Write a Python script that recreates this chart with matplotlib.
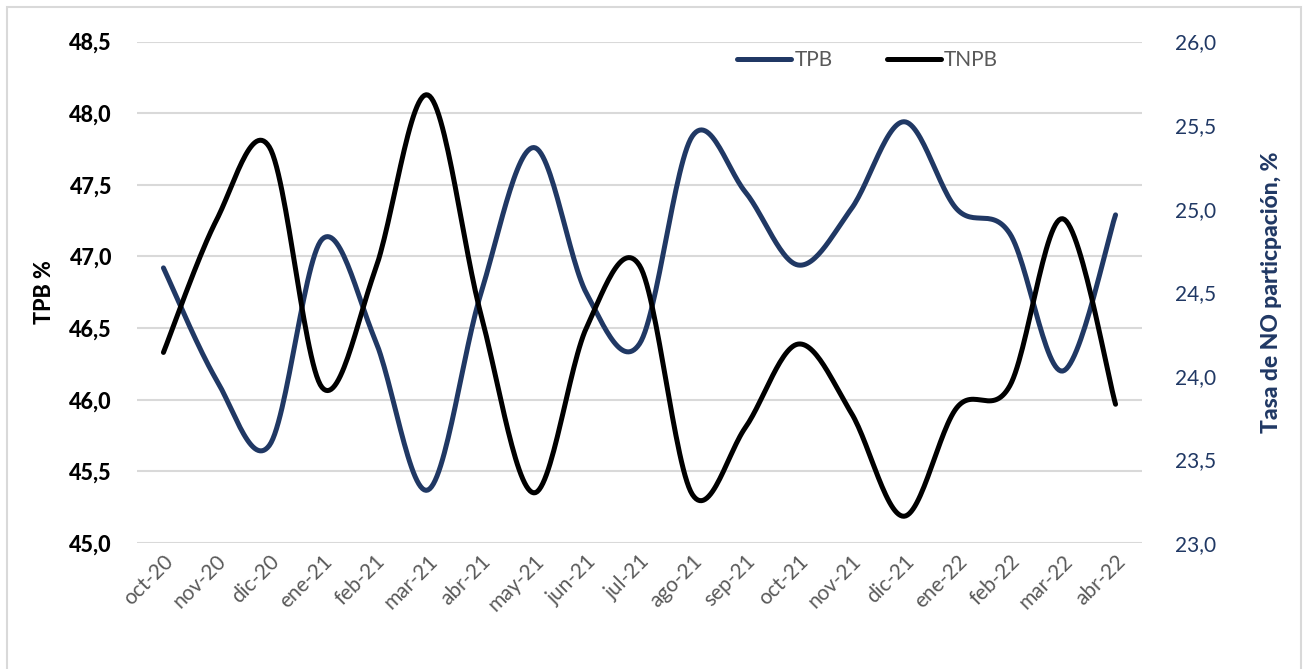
import numpy as np
import matplotlib
matplotlib.use("Agg")
import matplotlib.pyplot as plt
from matplotlib.patches import Rectangle
from matplotlib.lines import Line2D

meses = ["oct-20", "nov-20", "dic-20", "ene-21", "feb-21", "mar-21", "abr-21",
         "may-21", "jun-21", "jul-21", "ago-21", "sep-21", "oct-21", "nov-21",
         "dic-21", "ene-22", "feb-22", "mar-22", "abr-22"]
tpb = [46.92, 46.14, 45.68, 47.12, 46.42, 45.37, 46.74, 47.76, 46.74, 46.39,
       47.84, 47.45, 46.94, 47.33, 47.94, 47.33, 47.16, 46.2, 47.29]
tnpb = [24.14, 24.93, 25.37, 23.93, 24.63, 25.68, 24.37, 23.3, 24.29, 24.66,
        23.29, 23.69, 24.19, 23.78, 23.16, 23.81, 23.94, 24.94, 23.83]

azul = "#203864"
gris = "#595959"
plt.rcParams['font.family'] = ['Lato', 'DejaVu Sans']


def suave(y, n=30):
    # curva tipo Excel (catmull-rom con bezier)
    y = np.asarray(y, float)
    x = np.arange(len(y), dtype=float)
    px = np.concatenate([[x[0]], x, [x[-1]]])
    py = np.concatenate([[y[0]], y, [y[-1]]])
    xs, ys = [], []
    t = np.linspace(0, 1, n)
    for i in range(len(y) - 1):
        p0 = np.array([px[i], py[i]])
        p1 = np.array([px[i + 1], py[i + 1]])
        p2 = np.array([px[i + 2], py[i + 2]])
        p3 = np.array([px[i + 3], py[i + 3]])
        c1 = p1 + (p2 - p0) / 6
        c2 = p2 - (p3 - p1) / 6
        b = ((1 - t) ** 3)[:, None] * p1 + (3 * (1 - t) ** 2 * t)[:, None] * c1 \
            + (3 * (1 - t) * t ** 2)[:, None] * c2 + (t ** 3)[:, None] * p2
        xs.extend(b[:, 0]); ys.extend(b[:, 1])
    return np.array(xs), np.array(ys)


fig = plt.figure(figsize=(13.06, 6.69), dpi=100)
fig.patches.append(Rectangle((7 / 1306, -0.01), 1294 / 1306, 1 - 7 / 669 + 0.01,
                             transform=fig.transFigure, fill=False,
                             edgecolor="#d9d9d9", linewidth=1.5))

ax = fig.add_axes([137 / 1306, (669 - 543) / 669, 1005 / 1306, 501.5 / 669])
ax2 = ax.twinx()

x1, y1 = suave(tpb)
ax.plot(x1, y1, color=azul, lw=3.6, solid_capstyle="round", zorder=3)
x2, y2 = suave(tnpb)
ax2.plot(x2, y2, color="black", lw=3.6, solid_capstyle="round", zorder=3)

ax.set_xlim(-0.5, len(meses) - 0.5)
ax.set_ylim(45, 48.5)
ax2.set_ylim(23, 26)
ax.set_yticks(np.arange(45, 48.51, 0.5))
ax2.set_yticks(np.arange(23, 26.01, 0.5))
ax.set_yticklabels([f"{v:.1f}".replace(".", ",") for v in np.arange(45, 48.51, 0.5)],
                   fontsize=15.5, fontweight="black", color="black")
ax2.set_yticklabels([f"{v:.1f}".replace(".", ",") for v in np.arange(23, 26.01, 0.5)],
                    fontsize=15, color=azul)
ax.set_xticks(range(len(meses)))
ax.set_xticklabels(meses, rotation=45, ha="right", va="top", rotation_mode="anchor",
                   fontsize=15, color=gris)
ax.tick_params(axis="both", length=0)
ax.tick_params(axis="y", pad=18)
ax.tick_params(axis="x", pad=6)
ax2.tick_params(axis="y", length=0, pad=24)
ax.grid(axis="y", color="#d9d9d9", lw=1.5)
ax.set_axisbelow(True)
for a in (ax, ax2):
    for s in a.spines.values():
        s.set_visible(False)

ax.set_ylabel("TPB %", fontsize=15.5, fontweight="black", color="black", labelpad=10)
ax2.set_ylabel("Tasa de NO particpación, %", fontsize=16.5, fontweight="black",
               color=azul, labelpad=32)

h = [Line2D([], [], color=azul, lw=3.6, solid_capstyle="round"),
     Line2D([], [], color="black", lw=3.6, solid_capstyle="round")]
leg = ax.legend(h, ["TPB", "TNPB"], loc="center",
                bbox_to_anchor=(0.727, 1 - 19 / 501.5),
                ncol=2, frameon=False, fontsize=15, handlelength=2.6,
                handletextpad=0.15, columnspacing=2.6, borderpad=0)
for t in leg.get_texts():
    t.set_color(gris)

fig.savefig("out.png", dpi=100)
